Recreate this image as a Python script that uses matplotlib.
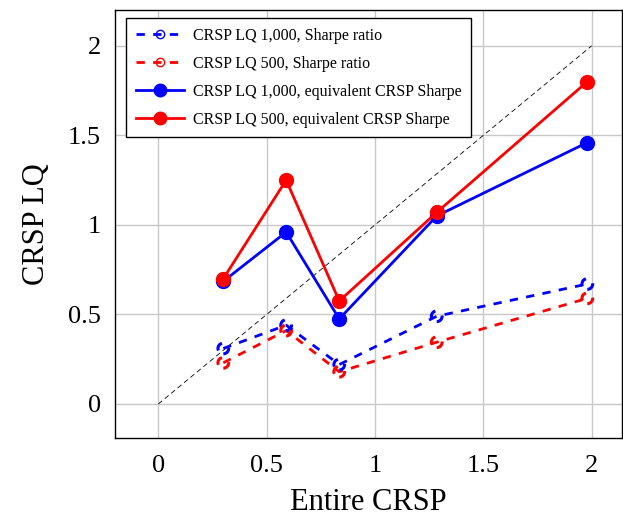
import matplotlib.pyplot as plt
from matplotlib.lines import Line2D

plt.rcParams['font.family'] = ['Liberation Serif', 'DejaVu Serif']

# values
x = [0.30, 0.59, 0.835, 1.285, 1.98]
lq1000_sharpe = [0.31, 0.44, 0.22, 0.49, 0.67]
lq500_sharpe = [0.23, 0.41, 0.18, 0.345, 0.59]
lq1000_equiv = [0.685, 0.96, 0.475, 1.05, 1.46]
lq500_equiv = [0.70, 1.25, 0.575, 1.07, 1.80]

fig = plt.figure(figsize=(6.23, 5.19), dpi=100)
ax = fig.add_axes([115 / 623, 81 / 519, 507 / 623, 428 / 519])

# 45 degree reference line
ax.plot([0, 2], [0, 2], color='black', linestyle=(0, (6, 4)), linewidth=0.6, zorder=2)

dash = (0, (3, 3))
ax.plot(x, lq1000_sharpe, color='blue', linestyle=dash, linewidth=2, zorder=3)
ax.scatter(x, lq1000_sharpe, s=60, facecolors='none', edgecolors='blue',
           linewidths=2.2, linestyle=dash, zorder=4)
ax.plot(x, lq500_sharpe, color='red', linestyle=dash, linewidth=2, zorder=3)
ax.scatter(x, lq500_sharpe, s=60, facecolors='none', edgecolors='red',
           linewidths=2.2, linestyle=dash, zorder=4)

ax.plot(x, lq1000_equiv, color='blue', linewidth=2, marker='o', markersize=10, zorder=5)
ax.plot(x, lq500_equiv, color='red', linewidth=2, marker='o', markersize=10, zorder=5)

ax.set_xlim(-0.2, 2.14)
ax.set_ylim(-0.19, 2.2)
ax.set_xticks([0, 0.5, 1, 1.5, 2])
ax.set_xticklabels(['0', '0.5', '1', '1.5', '2'])
ax.set_yticks([0, 0.5, 1, 1.5, 2])
ax.set_yticklabels(['0', '0.5', '1', '1.5', '2'])
ax.tick_params(axis='x', labelsize=19, length=0, pad=12)
ax.tick_params(axis='y', labelsize=19, length=0, pad=10)
ax.grid(True, color='#c8c8c8', linewidth=1)
ax.set_axisbelow(True)
for s in ax.spines.values():
    s.set_linewidth(1)

ax.set_xlabel('Entire CRSP', fontsize=22, labelpad=8)
ax.set_ylabel('CRSP LQ', fontsize=22, labelpad=12)

handles = [
    Line2D([], [], color='blue', linestyle=dash, linewidth=2, marker='o',
           markersize=6, markerfacecolor='none'),
    Line2D([], [], color='red', linestyle=dash, linewidth=2, marker='o',
           markersize=6, markerfacecolor='none'),
    Line2D([], [], color='blue', linewidth=2, marker='o', markersize=9),
    Line2D([], [], color='red', linewidth=2, marker='o', markersize=9),
]
labels = ['CRSP LQ 1,000, Sharpe ratio', 'CRSP LQ 500, Sharpe ratio',
          'CRSP LQ 1,000, equivalent CRSP Sharpe', 'CRSP LQ 500, equivalent CRSP Sharpe']
leg = ax.legend(handles, labels, loc='upper left', bbox_to_anchor=(0.0217, 0.981),
                borderaxespad=0, fontsize=11.5, frameon=True, fancybox=False,
                edgecolor='black', framealpha=1, handlelength=3.0, handletextpad=0.6,
                borderpad=0.6, labelspacing=0.75)
leg.get_frame().set_linewidth(1)

fig.savefig('out.png', dpi=100)
